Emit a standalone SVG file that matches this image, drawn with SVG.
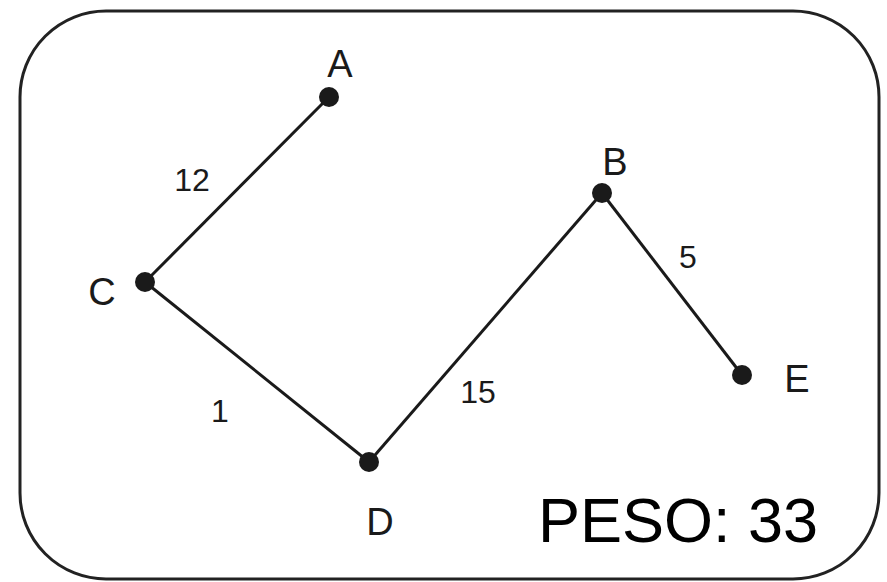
<svg xmlns="http://www.w3.org/2000/svg" width="887" height="582" viewBox="0 0 887 582">
<style>
.frame{fill:none;stroke:#222;stroke-width:3}
.edge{stroke:#1a1a1a;stroke-width:3;fill:none}
.dot{fill:#1a1a1a}
.lbl{font-family:"Liberation Sans",Arial,sans-serif;font-size:38px;fill:#1a1a1a;text-anchor:middle}
.w{font-family:"Liberation Sans",Arial,sans-serif;font-size:32px;fill:#1a1a1a;text-anchor:middle}
.peso{font-family:"Liberation Sans",Arial,sans-serif;font-size:63px;fill:#000}
</style>
<rect width="887" height="582" fill="#fff"/>
<rect class="frame" x="20" y="11" width="859" height="568" rx="86" ry="86"/>
<g id="edges">
<line class="edge" x1="329" y1="97" x2="145" y2="282"/>
<line class="edge" x1="145" y1="282" x2="369" y2="462"/>
<line class="edge" x1="369" y1="462" x2="602" y2="193"/>
<line class="edge" x1="602" y1="193" x2="742" y2="375"/>
<text class="w" x="192" y="191">12</text>
<text class="w" x="220" y="422">1</text>
<text class="w" x="478" y="403">15</text>
<text class="w" x="688" y="268">5</text>
</g>
<g id="A"><circle class="dot" cx="329" cy="97" r="10"/><text class="lbl" x="340" y="77">A</text></g>
<g id="C"><circle class="dot" cx="145" cy="282" r="10"/><text class="lbl" x="102" y="305">C</text></g>
<g id="B"><circle class="dot" cx="602" cy="193" r="10"/><text class="lbl" x="615" y="175">B</text></g>
<g id="D"><circle class="dot" cx="369" cy="462" r="10"/><text class="lbl" x="380" y="535">D</text></g>
<g id="E"><circle class="dot" cx="742" cy="375" r="10"/><text class="lbl" x="797" y="392">E</text></g>
<g id="weight"><text class="peso" x="538" y="542">PESO: 33</text></g>
</svg>
